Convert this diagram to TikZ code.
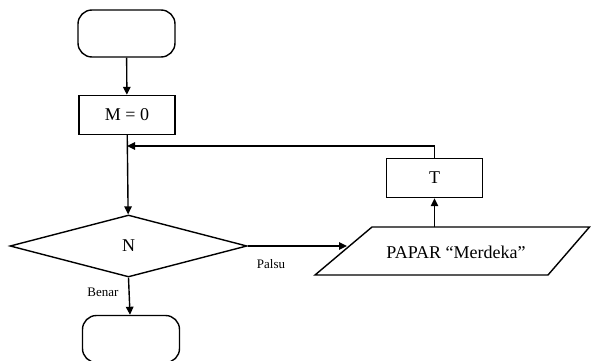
\documentclass[tikz,border=0pt]{standalone}
\usepackage{fontspec}
\setmainfont{Liberation Serif}
\usetikzlibrary{arrows.meta,shapes.geometric}
\begin{document}
\begin{tikzpicture}[x=1pt,y=-1pt, line width=1.4pt,
  >={Triangle[length=8pt,width=7.5pt]},
  term/.style={draw, rectangle, rounded corners=14pt, minimum width=97pt, minimum height=47pt, inner sep=0pt},
  proc/.style={draw, rectangle, minimum width=96pt, minimum height=39pt, inner sep=0pt, font=\fontsize{18}{21}\selectfont},
  dec/.style={draw, diamond, minimum width=237pt, minimum height=62pt, inner sep=0pt, font=\fontsize{18}{21}\selectfont},
  big/.style={font=\fontsize{18}{21}\selectfont, inner sep=0pt},
  small/.style={font=\fontsize{13}{15}\selectfont, inner sep=0pt}]
\useasboundingbox (0,0) rectangle (591,361);
\node[term] (start) at (126.5,33.5) {};
\node[proc] (m) at (127,115) {M = 0};
\node[dec] (d) at (128.5,246) {N};
\node[term] (end) at (131,339) {};
\node[proc] (t) at (434.5,178) {T};
\coordinate (ptl) at (372,227);
\coordinate (ptr) at (589.5,227);
\coordinate (pbr) at (548,275);
\coordinate (pbl) at (315,275);
\draw (ptl) -- (ptr) -- (pbr) -- (pbl) -- cycle;
\node[big] (ptext) at (456,252) {PAPAR “Merdeka”};
\coordinate (pin) at (347,246);
\coordinate (ptop) at (434.5,227);
\coordinate (join) at (127,146);
\draw[->] (start) -- (m);
\draw[->] (m) -- (d);
\draw[->] (t.north) |- (join);
\draw[->] (d.east) -- (pin);
\draw[->] (ptop) -- (t.south);
\draw[->] (d.south) -- (end);
\node[small] (palsu) at (271,264) {Palsu};
\node[small] (benar) at (103,292) {Benar};
\end{tikzpicture}
\end{document}
